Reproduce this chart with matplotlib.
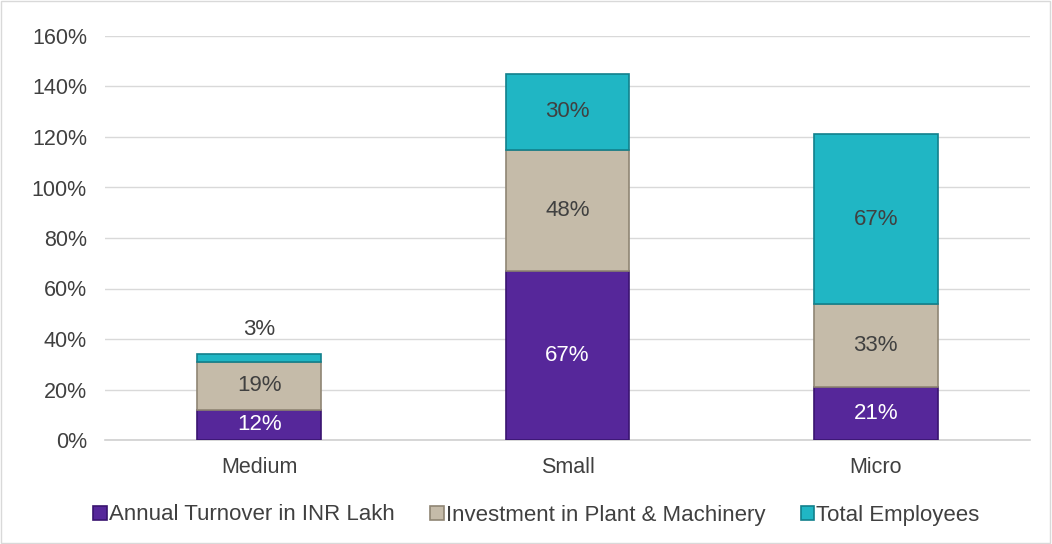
import matplotlib.pyplot as plt
import numpy as np

categories = ["Medium", "Small", "Micro"]
turnover = [12, 67, 21]
investment = [19, 48, 33]
employees = [3, 30, 67]
series_names = ["Annual Turnover in INR Lakh", "Investment in Plant & Machinery", "Total Employees"]
y_ticks = [0, 20, 40, 60, 80, 100, 120, 140, 160]

colors = ["#56279a", "#c5bba9", "#20b6c4"]
edges = ["#3a1470", "#8f8574", "#12808c"]
text_colors = ["white", "#404040", "#404040"]

plt.rcParams['font.family'] = ['Liberation Sans', 'DejaVu Sans']
fig = plt.figure(figsize=(10.52, 5.44), dpi=100)
ax = fig.add_axes([105 / 1052, 1 - 440 / 544, 925 / 1052, 404 / 544])

x = np.arange(len(categories))
bottom = np.zeros(len(categories))
for vals, c, e, tc, name in zip([turnover, investment, employees], colors, edges, text_colors, series_names):
    vals = np.array(vals, dtype=float)
    ax.bar(x, vals, 0.4, bottom=bottom, color=c, edgecolor=e, linewidth=1.2, label=name, zorder=3)
    for xi, b, v in zip(x, bottom, vals):
        if v < 8:
            ax.text(xi, b + v + 5.5, f"{int(v)}%", ha="center", va="bottom", fontsize=16, color="#404040")
        else:
            ax.text(xi, b + v / 2, f"{int(v)}%", ha="center", va="center", fontsize=16, color=tc, zorder=4)
    bottom += vals

ax.set_xlim(-0.5, 2.5)
ax.set_ylim(0, 160)
ax.set_yticks(y_ticks)
ax.set_yticklabels([f"{t}%" for t in y_ticks])
ax.set_xticks(x)
ax.set_xticklabels(categories)
ax.tick_params(length=0, labelsize=15.5, labelcolor="#404040")
ax.tick_params(axis="y", pad=13)
ax.tick_params(axis="x", pad=12)
ax.grid(axis="y", color="#d9d9d9", linewidth=1, zorder=0)
for s in ["top", "right", "left"]:
    ax.spines[s].set_visible(False)
ax.spines["bottom"].set_color("#d0d0d0")
ax.spines["bottom"].set_linewidth(1.2)

fig.legend(loc="center", bbox_to_anchor=(0.51, 1 - 515 / 544), ncol=3, frameon=False,
           fontsize=16, handlelength=0.6, handleheight=0.6, handletextpad=0.1,
           columnspacing=1.6, labelcolor="#404040")

fig.patches.append(plt.Rectangle((0.001, 0.001), 0.997, 0.997, transform=fig.transFigure,
                                 fill=False, edgecolor="#d9d9d9", linewidth=1))
fig.savefig("out.png", dpi=100)
